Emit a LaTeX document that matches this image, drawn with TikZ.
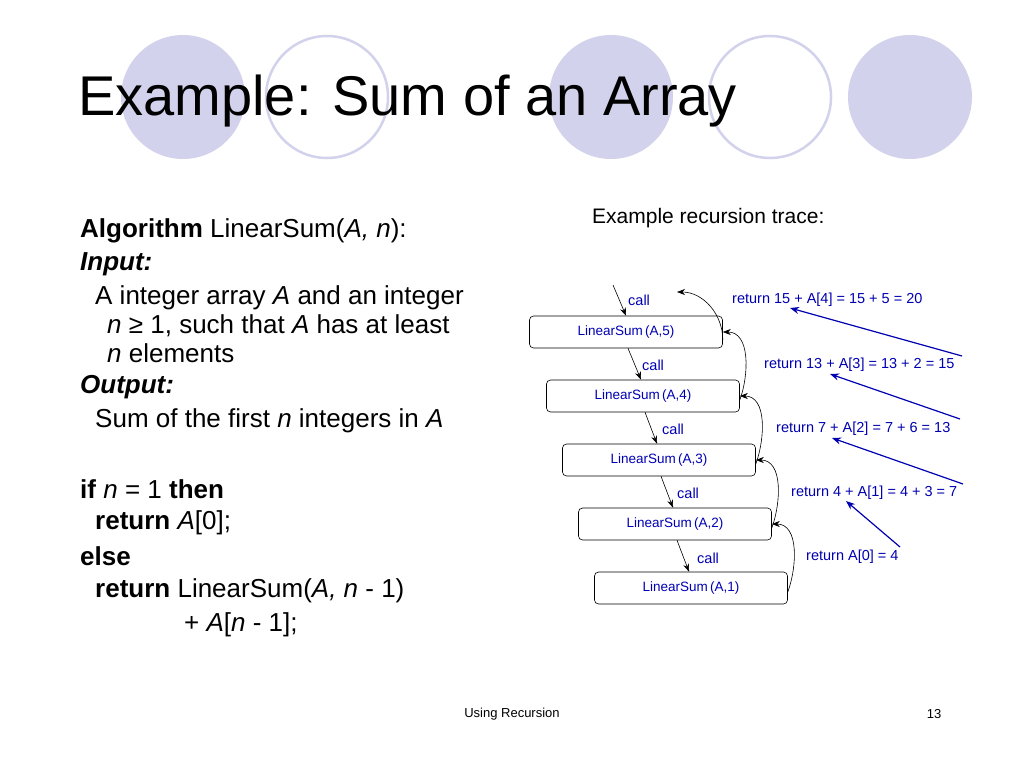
\documentclass[tikz,border=0pt]{standalone}
\usepackage{fontspec}
\setmainfont{Liberation Sans}
\begin{document}
\begin{tikzpicture}[x=1pt,y=-1pt,
  circf/.style={fill=lav,draw=none},
  circo/.style={draw=lav,line width=2.5pt},
  lsbox/.style={draw,semithick,rounded corners=4pt,minimum width=193pt,minimum height=32pt,font=\fontsize{13.5}{13.5}\selectfont,text=blue!70!black,inner sep=0pt},
  lbl/.style={anchor=west,font=\fontsize{14.5}{14.5}\selectfont,text=blue!70!black,inner sep=0pt},
  body/.style={anchor=west,font=\fontsize{26}{26}\selectfont,inner sep=0pt},
  carrow/.style={-{Stealth[length=8pt,width=6pt]},semithick},
  barrow/.style={-{Stealth[length=9pt,width=7pt]},blue!70!black,line width=1.2pt}]
\usetikzlibrary{arrows.meta}
\definecolor{lav}{HTML}{D2D2EC}
\useasboundingbox (0,0) rectangle (1024,768);
\fill[white] (0,0) rectangle (1024,768);
\fill[circf] (183,97) circle (62);
\draw[circo] (327,97) circle (61);
\fill[circf] (611,97) circle (62);
\draw[circo] (770,97) circle (61);
\fill[circf] (910,97) circle (62);
\node[anchor=west,inner sep=0pt,font=\fontsize{56}{56}\selectfont] (title) at (78,101) {Example: Sum of an Array};
% left text
\node[body] (t1) at (80,231) {\textbf{Algorithm} LinearSum(\textit{A, n}):};
\node[body] (t2) at (80,264) {\textbf{\textit{Input:}}};
\node[body] (t3) at (95,298) {A integer array \textit{A} and an integer};
\node[body] (t4) at (107,326) {\textit{n} ≥ 1, such that \textit{A} has at least};
\node[body] (t5) at (107,353) {\textit{n} elements};
\node[body] (t6) at (80,387) {\textbf{\textit{Output:}}};
\node[body] (t7) at (95,421) {Sum of the first \textit{n} integers in \textit{A}};
\node[body] (t8) at (80,489) {\textbf{if} \textit{n} = 1 \textbf{then}};
\node[body] (t9) at (95,523) {\textbf{return} \textit{A}[0];};
\node[body] (t10) at (80,556) {\textbf{else}};
\node[body] (t11) at (95,591) {\textbf{return} LinearSum(\textit{A, n} - 1)};
\node[body] (t12) at (184,625) {+ \textit{A}[\textit{n} - 1];};
% trace
\node[anchor=west,inner sep=0pt,font=\fontsize{21}{21}\selectfont] (th) at (592,218) {Example recursion trace:};
\node[lsbox] (b5) at (626,332) {LinearSum\,(A,5)};
\node[lsbox] (b4) at (643,396) {LinearSum\,(A,4)};
\node[lsbox] (b3) at (659,460) {LinearSum\,(A,3)};
\node[lsbox] (b2) at (675,524) {LinearSum\,(A,2)};
\node[lsbox] (b1) at (691,588) {LinearSum\,(A,1)};
\coordinate (top) at (613,285);
\coordinate (ret) at (677,292);
\draw[carrow] (top) -- (b5.north);
\draw[carrow] ([xshift=2pt]b5.south) -- ([xshift=-2pt]b4.north);
\draw[carrow] ([xshift=2pt]b4.south) -- ([xshift=-2pt]b3.north);
\draw[carrow] ([xshift=2pt]b3.south) -- ([xshift=-2pt]b2.north);
\draw[carrow] ([xshift=2pt]b2.south) -- ([xshift=-2pt]b1.north);
\node[lbl] (c5) at (628,300) {call};
\node[lbl] (c4) at (642,365) {call};
\node[lbl] (c3) at (662,429) {call};
\node[lbl] (c2) at (677,493) {call};
\node[lbl] (c1) at (697,558) {call};
\draw[carrow] ([yshift=-8pt]b5.east) to[out=90,in=0] (ret);
\draw[carrow] ([yshift=-4pt]b4.east) to[out=70,in=0] (b5.east);
\draw[carrow] ([yshift=-4pt]b3.east) to[out=70,in=0] (b4.east);
\draw[carrow] ([yshift=-4pt]b2.east) to[out=70,in=0] (b3.east);
\draw[carrow] ([yshift=-4pt]b1.east) to[out=70,in=0] (b2.east);
\node[lbl] (r5) at (732,300) {return 15 + A[4] = 15 + 5 = 20};
\node[lbl] (r4) at (764,365) {return 13 + A[3] = 13 + 2 = 15};
\node[lbl] (r3) at (776,429) {return 7 + A[2] = 7 + 6 = 13};
\node[lbl] (r2) at (791,493) {return 4 + A[1] = 4 + 3 = 7};
\node[lbl] (r1) at (806,557) {return A[0] = 4};
\coordinate (a4) at (962,356);
\coordinate (a3) at (960,419);
\coordinate (a2) at (963,484);
\coordinate (a1) at (900,547);
\draw[barrow] (a4) -- (790,308);
\draw[barrow] (a3) -- (830,374);
\draw[barrow] (a2) -- (832,438);
\draw[barrow] (a1) -- (846,501);
\node[font=\fontsize{13}{13}\selectfont] (f1) at (512,714) {Using Recursion};
\node[font=\fontsize{13}{13}\selectfont] (f2) at (934,714) {13};
\end{tikzpicture}
\end{document}
